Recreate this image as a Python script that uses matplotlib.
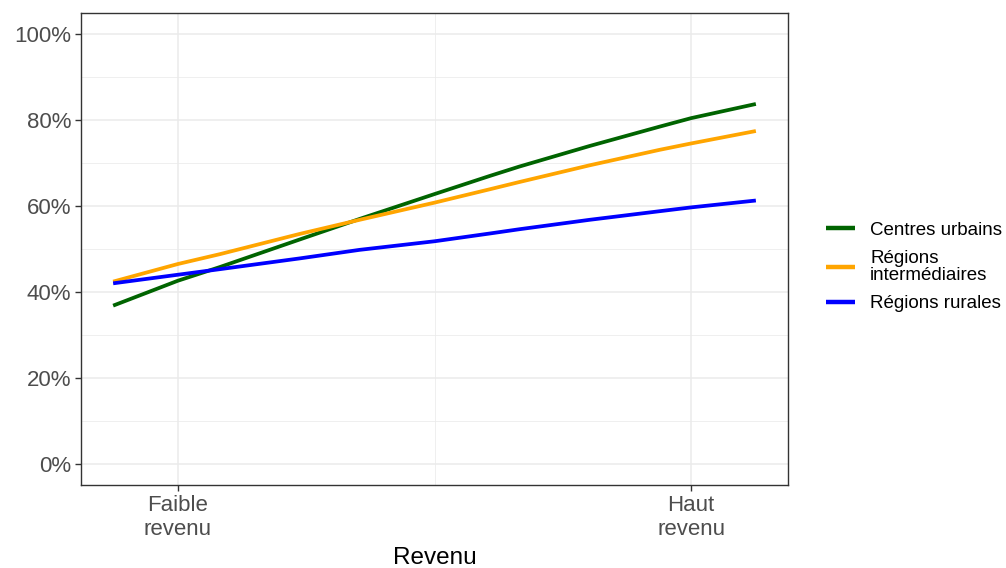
import matplotlib
matplotlib.use("Agg")
import matplotlib.pyplot as plt
from matplotlib.ticker import FixedLocator

plt.rcParams['font.family'] = ['Liberation Sans', 'DejaVu Sans']

# Data (x: 0 = faible revenu, 1 = haut revenu)
x_vals = [-0.126, 0.0, 0.082, 0.237, 0.354, 0.5, 0.607, 0.665, 0.802, 0.938, 1.0, 1.126]
centres_urbains = [36.8, 42.6, 45.8, 52.2, 57.0, 62.8, 67.0, 69.2, 74.0, 78.5, 80.5, 83.8]
regions_intermediaires = [42.4, 46.5, 48.8, 53.5, 56.8, 60.8, 63.9, 65.6, 69.5, 73.1, 74.6, 77.5]
regions_rurales = [42.0, 44.0, 45.3, 47.8, 49.8, 51.8, 53.6, 54.6, 56.8, 58.8, 59.7, 61.3]

series_names = ["Centres urbains", "Régions\nintermédiaires", "Régions rurales"]
series_colors = ["#006400", "#FFA500", "#0000FF"]
x_tick_pos = [0, 1]
x_tick_labels = ["Faible\nrevenu", "Haut\nrevenu"]
y_ticks = [0, 20, 40, 60, 80, 100]

fig = plt.figure(figsize=(10.06, 5.68), dpi=100)
ax = fig.add_axes([81/1006, 1-485/568, (788-81)/1006, (485-13)/568])

for vals, name, col in zip([centres_urbains, regions_intermediaires, regions_rurales],
                           series_names, series_colors):
    ax.plot(x_vals, vals, color=col, lw=2.7, label=name, solid_capstyle='butt',
            solid_joinstyle='round', zorder=3)

xr = x_vals[-1] - x_vals[0]
ax.set_xlim(x_vals[0] - 0.05*xr, x_vals[-1] + 0.05*xr)
ax.set_ylim(-5, 105)

ax.set_xticks(x_tick_pos)
ax.set_xticklabels(x_tick_labels, linespacing=1.2)
ax.xaxis.set_minor_locator(FixedLocator([0.5]))
ax.set_yticks(y_ticks)
ax.set_yticklabels([f"{v}%" for v in y_ticks])
ax.yaxis.set_minor_locator(FixedLocator([10, 30, 50, 70, 90]))

ax.grid(which='major', color='#EBEBEB', lw=1.1, zorder=0)
ax.grid(which='minor', color='#EBEBEB', lw=0.55, zorder=0)
ax.set_axisbelow(True)

for s in ax.spines.values():
    s.set_color('#333333')
    s.set_linewidth(1.0)

ax.tick_params(axis='both', which='major', length=4, width=1, color='#333333',
               labelcolor='#4D4D4D', labelsize=16, pad=3)
ax.tick_params(axis='both', which='minor', length=0)

ax.set_xlabel("Revenu", fontsize=17.5, color='black', labelpad=5)

leg = ax.legend(loc='center left', bbox_to_anchor=(826/1006, 1-267/568),
                bbox_transform=fig.transFigure, frameon=False, fontsize=13.5,
                handlelength=1.55, handletextpad=0.8, labelspacing=0.6,
                borderaxespad=0, borderpad=0)
for t in leg.get_texts():
    t.set_linespacing(1.0)
for l in leg.get_lines():
    l.set_linewidth(3.2)

fig.savefig("out.png", dpi=100)
